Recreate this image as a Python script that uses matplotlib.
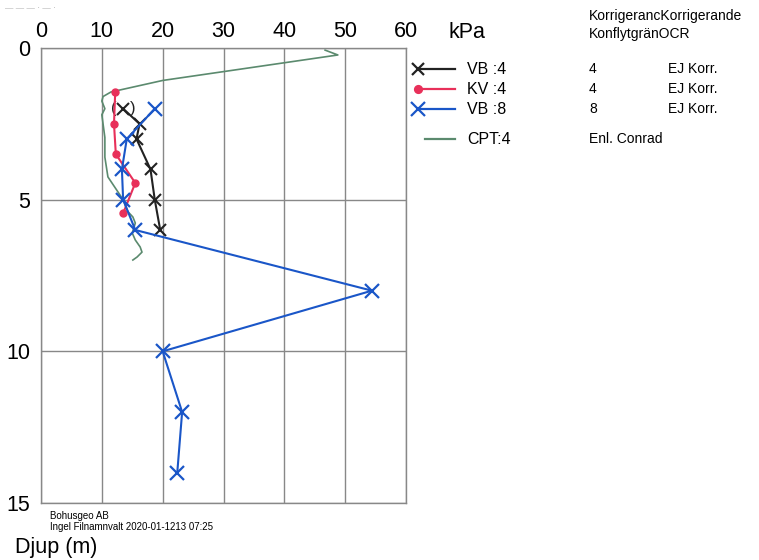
import matplotlib
matplotlib.use("Agg")
import matplotlib.pyplot as plt
from matplotlib.lines import Line2D

plt.rcParams['font.family'] = ['Liberation Sans', 'DejaVu Sans']

# VB :4 (svart)
vb4_kpa = [13.5, 16.2, 15.7, 18.0, 18.7, 19.6]
vb4_djup = [2.0, 2.5, 3.0, 4.0, 5.0, 6.0]

# KV :4 (rod)
kv4_kpa = [12.2, 12.0, 12.3, 15.5, 13.5]
kv4_djup = [1.45, 2.5, 3.5, 4.45, 5.45]

# VB :8 (bla)
vb8_kpa = [18.7, 14.1, 13.3, 13.5, 15.5, 54.4, 20.0, 23.2, 22.4]
vb8_djup = [2.0, 3.0, 4.0, 5.0, 6.0, 8.0, 10.0, 12.0, 14.0]

# CPT:4 (gron)
cpt_kpa = [46.7, 48.8, 20.0, 11.5, 10.2, 10.0, 10.5, 10.0, 10.2, 10.5, 10.5, 11.0,
           13.5, 14.3, 15.1, 15.5, 15.0, 15.5, 16.3, 16.6, 15.8, 15.1]
cpt_djup = [0.07, 0.23, 1.07, 1.45, 1.6, 1.75, 2.0, 2.2, 2.5, 2.95, 3.6, 4.25,
            5.0, 5.4, 5.57, 5.77, 6.1, 6.33, 6.56, 6.73, 6.89, 6.99]

etiketter = ['VB :4', 'KV :4', 'VB :8', 'CPT:4']
konflytgrans = ['4', '4', '8', 'Enl. Conrad']
ocr = ['EJ Korr.', 'EJ Korr.', 'EJ Korr.', '']

svart = '#222222'
rod = '#e8305a'
bla = '#1a56c8'
gron = '#5b8a6e'

fig = plt.figure(figsize=(7.59, 5.60), dpi=100)
ax = fig.add_axes([41/759, 1-503/560, 365/759, 455/560])

ax.plot(cpt_kpa, cpt_djup, color=gron, lw=1.2, zorder=2)
ax.plot(vb4_kpa, vb4_djup, color=svart, lw=1.5, marker='x', ms=9, mew=1.5, zorder=3)
ax.plot(kv4_kpa, kv4_djup, color=rod, lw=1.5, marker='o', ms=5, zorder=4)
ax.plot(vb8_kpa, vb8_djup, color=bla, lw=1.5, marker='x', ms=10, mew=1.6, zorder=5)
# parentes runt osaker punkt
ax.annotate('(', (vb4_kpa[0], vb4_djup[0]), xytext=(-7, 0), textcoords='offset points',
            ha='center', va='center', fontsize=12, color=svart)
ax.annotate(')', (vb4_kpa[0], vb4_djup[0]), xytext=(7, 0), textcoords='offset points',
            ha='center', va='center', fontsize=12, color=svart)

ax.set_xlim(0, 60)
ax.set_ylim(15, 0)
ax.set_xticks(range(0, 61, 10))
ax.set_yticks([0, 5, 10, 15])
ax.xaxis.tick_top()
ax.tick_params(length=0, labelsize=15.5, pad=4)
ax.tick_params(axis='y', pad=8)
ax.grid(True, color='#888888', lw=1.0)
for s in ax.spines.values():
    s.set_color('#888888')
    s.set_linewidth(1.0)

fig.text(448/759, 1-33/560, 'kPa', fontsize=15.5, va='center')
fig.text(15/759, 1-548/560, 'Djup (m)', fontsize=15.5, va='center')
fig.text(50/759, 1-516/560, 'Bohusgeo AB', fontsize=7, va='center')
fig.text(50/759, 1-527/560, 'Ingel Filnamnvalt 2020-01-1213 07:25', fontsize=7, va='center')
fig.text(5/759, 1-8/560, '\u2014 \u2014 \u2014 \u00b7 \u2014 \u00b7', fontsize=6, color='#aaaaaa', va='center')

fig.text(589/759, 1-16/560, 'KorrigerancKorrigerande', fontsize=10, va='center')
fig.text(589/759, 1-34/560, 'KonflytgränOCR', fontsize=10, va='center')

rader_y = [69, 89, 109, 139]
stilar = [(svart, 'x', 9), (rod, 'o', 5), (bla, 'x', 10), (gron, '', 0)]
for i, lab in enumerate(etiketter):
    y = 1 - rader_y[i]/560
    farg, mk, ms = stilar[i]
    x0 = 418/759 if mk else 425/759
    fig.add_artist(Line2D([x0, 455/759], [y, y], color=farg, lw=1.6,
                          marker=mk if mk else None, ms=ms, mew=1.6, markevery=[0]))
    fig.text(467/759, y, lab, fontsize=11.5, va='center')
    fig.text(589/759, y, konflytgrans[i], fontsize=10, va='center')
    if ocr[i]:
        fig.text(668/759, y, ocr[i], fontsize=10, va='center')

fig.savefig('out.png', dpi=100)
